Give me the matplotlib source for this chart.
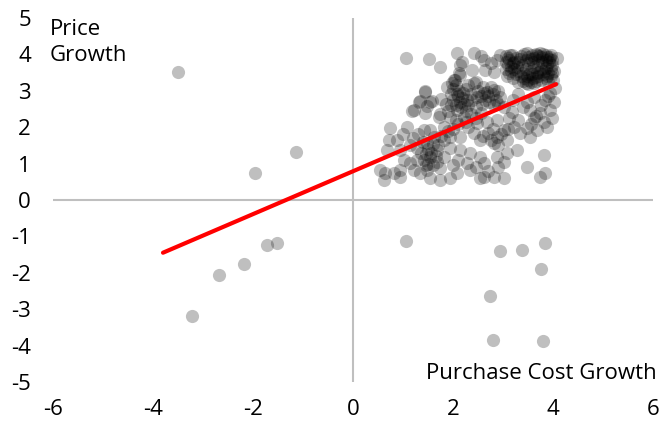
import matplotlib
matplotlib.use("Agg")
import matplotlib.pyplot as plt
import numpy as np

plt.rcParams['font.family'] = ['Open Sans', 'DejaVu Sans']
plt.rcParams['axes.unicode_minus'] = False

# points well away from the main cluster
outlier_x = [-3.50, -1.96, -1.14, -1.52, -1.72, -2.18, -2.68, -3.22,
             1.06, 2.94, 3.38, 3.84, 3.76, 2.74, 2.80, 3.80]
outlier_y = [3.53, 0.74, 1.32, -1.18, -1.23, -1.75, -2.05, -3.18,
             -1.12, -1.40, -1.37, -1.18, -1.89, -2.63, -3.84, -3.86]

# upper sparse band
upper_x = [1.05, 1.52, 1.74, 2.07, 2.41, 2.17, 2.14, 2.61, 2.37, 2.64, 2.81, 2.94,
           2.11, 2.55, 2.75, 2.88]
upper_y = [3.90, 3.88, 3.65, 4.05, 4.05, 3.80, 3.72, 3.85, 3.57, 3.57, 3.52, 3.98,
           3.49, 3.95, 3.75, 3.85]

# dense top-right block
block_x = [3.05, 3.12, 3.18, 3.25, 3.10, 3.20, 3.05, 3.15, 3.28, 3.35, 3.42, 3.50,
           3.58, 3.65, 3.72, 3.80, 3.88, 3.95, 3.70, 3.78, 3.85, 3.92, 3.98, 3.60,
           3.50, 3.45, 3.55, 3.62, 3.75, 3.85, 3.95, 3.90, 3.80, 3.70, 3.60, 3.50,
           3.42, 3.35, 3.25, 3.20, 3.30, 3.45, 3.55, 3.65, 3.75, 3.85, 3.95, 4.00,
           3.90, 3.08, 3.12, 3.30, 3.38, 3.62, 3.70, 3.98, 4.02, 3.05, 3.52, 3.68,
           3.14, 3.47, 3.74, 3.94, 4.07, 4.04, 3.94, 3.15, 3.22, 3.30, 3.40, 3.48,
           3.58, 3.66, 3.72, 3.82, 3.88, 3.78, 3.68, 3.55, 3.45, 3.33, 3.22, 3.50,
           3.62, 3.40, 3.88, 3.98, 3.10, 3.92, 3.85]
block_y = [3.95, 3.85, 3.98, 3.90, 3.70, 3.75, 3.60, 3.55, 3.65, 3.95, 4.00, 3.92,
           3.98, 4.02, 3.95, 4.00, 3.92, 3.98, 3.85, 3.80, 3.85, 3.78, 3.85, 3.80,
           3.75, 3.60, 3.55, 3.65, 3.60, 3.62, 3.60, 3.50, 3.45, 3.40, 3.35, 3.30,
           3.35, 3.40, 3.45, 3.35, 3.25, 3.22, 3.25, 3.28, 3.30, 3.35, 3.40, 3.30,
           3.25, 3.40, 3.50, 3.80, 3.72, 3.90, 3.70, 3.70, 3.55, 3.80, 3.45, 3.50,
           3.98, 4.03, 4.03, 3.94, 3.89, 3.07, 2.93, 3.65, 3.60, 3.55, 3.50, 3.40,
           3.45, 3.38, 3.52, 3.55, 3.70, 3.92, 3.98, 3.88, 3.85, 3.88, 3.80, 3.20,
           3.22, 3.28, 3.42, 3.50, 3.90, 3.88, 3.98]

# middle band
middle_x = [2.01, 1.97, 2.04, 2.14, 2.41, 2.27, 2.14, 2.07, 2.47, 2.67, 2.81, 2.94,
            2.64, 2.81, 3.01, 3.17, 1.43, 1.34, 1.57, 1.76, 1.47, 1.17, 1.44, 1.74,
            1.96, 2.00, 2.05, 2.10, 2.20, 2.15, 1.90, 2.25, 2.30, 2.50, 2.58, 2.70,
            2.75, 2.85, 2.90, 2.60, 2.35, 1.85, 1.21, 1.31, 1.54, 1.44, 2.55, 2.45,
            2.00, 1.88, 2.05, 2.12, 2.18, 2.22, 2.08, 1.95, 2.25, 2.30, 2.38, 2.45,
            2.55, 2.62, 2.72, 2.80, 2.90, 2.35, 2.45, 2.25]
middle_y = [3.30, 3.21, 3.30, 3.43, 3.21, 2.75, 2.70, 2.47, 2.84, 2.98, 3.02, 2.84,
            2.75, 2.61, 2.56, 2.43, 2.99, 2.71, 2.71, 2.78, 2.57, 2.44, 2.39, 2.36,
            2.90, 2.75, 2.60, 2.85, 2.95, 2.55, 2.45, 3.05, 2.60, 3.00, 2.65, 2.85,
            3.10, 2.75, 3.00, 3.10, 2.90, 2.65, 2.47, 2.70, 2.70, 2.98, 2.40, 3.25,
            3.05, 3.10, 3.15, 3.00, 2.80, 2.65, 2.90, 2.60, 2.45, 3.15, 2.75, 2.55,
            2.85, 2.95, 2.70, 2.90, 2.65, 2.35, 2.25, 2.15]

# right-hand band
right_x = [3.47, 3.61, 3.84, 4.01, 3.54, 3.74, 3.94, 3.61, 3.81, 3.97, 3.47, 3.67,
           3.87, 3.34, 3.54, 3.11, 3.21, 3.30, 3.20, 3.55, 3.65, 3.40, 3.30, 3.75,
           3.90]
right_y = [2.70, 2.84, 2.75, 2.70, 2.47, 2.38, 2.47, 2.24, 2.15, 2.24, 1.97, 1.92,
           2.01, 1.83, 1.74, 2.24, 2.01, 2.90, 2.75, 2.10, 2.30, 2.55, 2.20, 2.60,
           2.85]

# lower middle
lowmid_x = [3.01, 2.87, 3.07, 2.81, 2.54, 2.41, 2.67, 2.47, 2.87, 2.21, 1.94, 1.81,
            1.71, 2.70, 2.80, 2.95, 3.10, 2.60, 2.75, 2.90, 2.10, 2.00, 2.30, 1.90,
            2.05]
lowmid_y = [1.92, 1.74, 1.65, 1.56, 1.65, 1.83, 2.15, 2.11, 2.20, 2.29, 2.29, 2.01,
            2.29, 1.85, 1.95, 1.80, 1.95, 1.75, 1.65, 1.50, 2.10, 1.95, 2.00, 1.90,
            2.20]

# lower-left group
lowleft_x = [1.54, 1.61, 1.41, 1.07, 0.74, 0.71, 0.87, 0.67, 0.94, 1.14, 1.27, 1.47,
             1.67, 1.81, 1.94, 2.14, 1.94, 2.14, 1.41, 1.54, 1.67, 1.81, 1.74, 1.27,
             1.01, 1.50, 1.60, 1.55, 1.45, 1.65, 1.50, 1.60, 1.35, 1.70, 1.40, 1.20,
             1.30, 1.00, 1.75, 1.45]
lowleft_y = [1.92, 1.74, 1.92, 2.01, 1.97, 1.65, 1.65, 1.37, 1.37, 1.51, 1.42, 1.56,
             1.37, 1.65, 1.74, 1.74, 1.42, 1.37, 1.10, 1.19, 1.05, 1.19, 0.87, 1.10,
             1.10, 1.40, 1.55, 1.30, 1.25, 1.20, 1.00, 0.95, 1.30, 1.50, 1.60, 1.70,
             1.80, 1.80, 1.75, 0.95]

# bottom row
bottom_x = [2.34, 2.27, 2.54, 2.61, 2.87, 3.01, 3.07, 3.27, 3.81, 3.47, 3.84, 3.74,
            3.01, 2.81, 2.61, 2.54, 2.34, 2.07, 1.94, 1.74, 1.54, 1.47, 1.34, 1.14,
            1.21, 0.94, 0.94, 0.81, 0.61, 0.54, 0.64, 2.10, 2.00, 2.45, 2.70, 2.90]
bottom_y = [1.28, 1.01, 1.19, 1.01, 1.19, 1.05, 1.28, 1.37, 1.24, 0.92, 0.73, 0.64,
            0.60, 0.64, 0.64, 0.60, 0.82, 0.73, 0.60, 0.55, 0.60, 0.82, 0.73, 1.01,
            0.82, 0.64, 0.82, 0.73, 0.55, 0.82, 0.73, 1.10, 0.95, 0.90, 0.80, 0.90]

# linear trend
trend_slope = 0.589
trend_intercept = 0.79
trend_x = [-3.8, 4.06]

x_ticks = [-6, -4, -2, 0, 2, 4, 6]
y_ticks = [-5, -4, -3, -2, -1, 0, 1, 2, 3, 4, 5]

cost_growth = outlier_x + upper_x + block_x + middle_x + right_x + lowmid_x + lowleft_x + bottom_x
price_growth = outlier_y + upper_y + block_y + middle_y + right_y + lowmid_y + lowleft_y + bottom_y

fig = plt.figure(figsize=(6.61, 4.23), dpi=100)
ax = fig.add_axes([53 / 661, 41 / 423, 600 / 661, 364 / 423])

ax.axhline(0, color='#bfbfbf', lw=1.5, zorder=0)
ax.axvline(0, color='#bfbfbf', lw=1.5, zorder=0)

ax.scatter(cost_growth, price_growth, s=90, c='black', alpha=0.25,
           linewidths=0, zorder=2)

tx = np.array(trend_x)
ax.plot(tx, trend_intercept + trend_slope * tx, color='#ff0000', lw=3,
        solid_capstyle='round', zorder=3)

ax.set_xlim(-6, 6)
ax.set_ylim(-5, 5)
ax.set_xticks(x_ticks)
ax.set_yticks(y_ticks)
for s in ax.spines.values():
    s.set_visible(False)
ax.tick_params(length=0, labelsize=16, colors='black')
ax.tick_params(axis='y', pad=16)
ax.tick_params(axis='x', pad=12)

fig.text(50 / 661, 1 - 19 / 423, "Price\nGrowth", ha='left', va='top',
         fontsize=16, linespacing=1.3)
fig.text(657 / 661, 1 - 373 / 423, "Purchase Cost Growth", ha='right',
         va='center', fontsize=16)

fig.savefig('out.png', dpi=100)
